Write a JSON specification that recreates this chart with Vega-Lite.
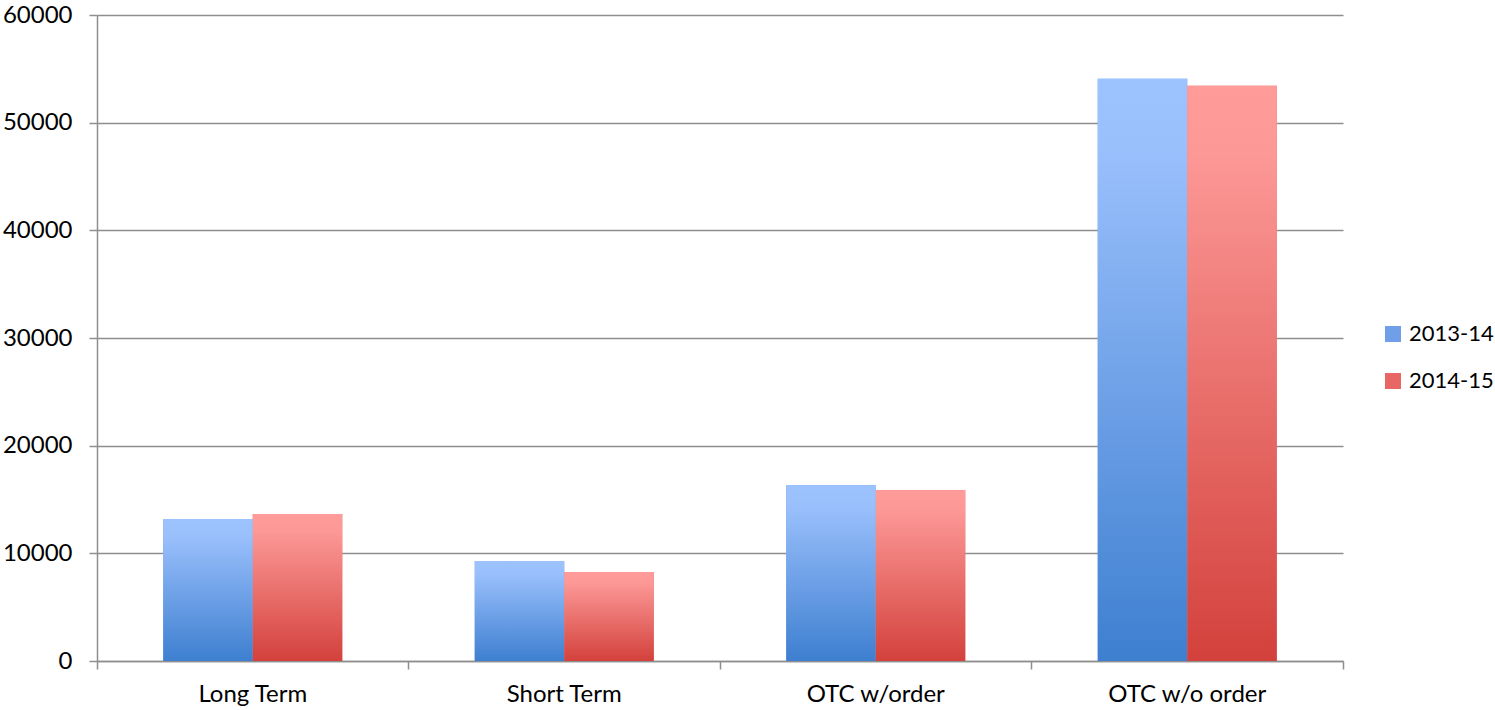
{
  "$schema": "https://vega.github.io/schema/vega-lite/v6.json",
  "width": 1246,
  "height": 646,
  "autosize": {"type": "none"},
  "padding": {"left": 97, "top": 15, "right": 152, "bottom": 49},
  "background": "white",
  "config": {
    "view": {"stroke": null},
    "font": "Lato",
    "axis": {"labelFont": "Lato", "labelFontSize": 24, "labelColor": "#000000", "domainColor": "#8e8e8e", "domainWidth": 1.5, "tickColor": "#8e8e8e", "tickWidth": 1.5, "gridColor": "#8e8e8e", "gridWidth": 1.5, "tickSize": 8, "title": null}
  },
  "data": {
    "values": [
      {"category": "Long Term", "year": "2013-14", "value": 13190},
      {"category": "Long Term", "year": "2014-15", "value": 13660},
      {"category": "Short Term", "year": "2013-14", "value": 9290},
      {"category": "Short Term", "year": "2014-15", "value": 8265},
      {"category": "OTC w/order", "year": "2013-14", "value": 16330},
      {"category": "OTC w/order", "year": "2014-15", "value": 15865},
      {"category": "OTC w/o order", "year": "2013-14", "value": 54090},
      {"category": "OTC w/o order", "year": "2014-15", "value": 53440}
    ]
  },
  "encoding": {
    "x": {
      "field": "category", "type": "nominal", "sort": null,
      "scale": {"paddingInner": 0, "paddingOuter": 0},
      "axis": {"labelAngle": 0, "bandPosition": 1, "tickExtra": true, "labelPadding": 13, "grid": false}
    },
    "xOffset": {
      "field": "year", "type": "nominal", "sort": ["2013-14", "2014-15"],
      "scale": {"paddingInner": 0, "paddingOuter": 0.74}
    },
    "y": {
      "field": "value", "type": "quantitative",
      "scale": {"domain": [0, 60000], "nice": false},
      "axis": {"values": [0, 10000, 20000, 30000, 40000, 50000, 60000], "format": "d", "grid": true, "labelPadding": 17}
    }
  },
  "layer": [
    {
      "mark": {"type": "bar"},
      "encoding": {
        "color": {
          "field": "year", "type": "nominal",
          "scale": {"domain": ["2013-14", "2014-15"], "range": ["#6e9fe8", "#e86663"]},
          "legend": {
            "title": null, "orient": "none", "legendX": 1285, "legendY": 308, "padding": 0,
            "symbolType": "square", "symbolSize": 256, "symbolStrokeWidth": 0, "symbolOpacity": 1,
            "labelFont": "Lato", "labelFontSize": 22, "labelColor": "#000000", "labelOffset": 5,
            "rowPadding": 25
          }
        }
      }
    },
    {
      "mark": {"type": "bar"},
      "encoding": {
        "fill": {
          "condition": {
            "test": "datum.year === '2013-14'",
            "value": {"gradient": "linear", "x1": 0, "y1": 0, "x2": 0, "y2": 1, "stops": [{"offset": 0, "color": "#9dc3ff"}, {"offset": 0.12, "color": "#9ac0fc"}, {"offset": 1, "color": "#3e7fd0"}]}
          },
          "value": {"gradient": "linear", "x1": 0, "y1": 0, "x2": 0, "y2": 1, "stops": [{"offset": 0, "color": "#ff9b99"}, {"offset": 0.12, "color": "#fc9896"}, {"offset": 1, "color": "#d3413c"}]}
        }
      }
    }
  ]
}
